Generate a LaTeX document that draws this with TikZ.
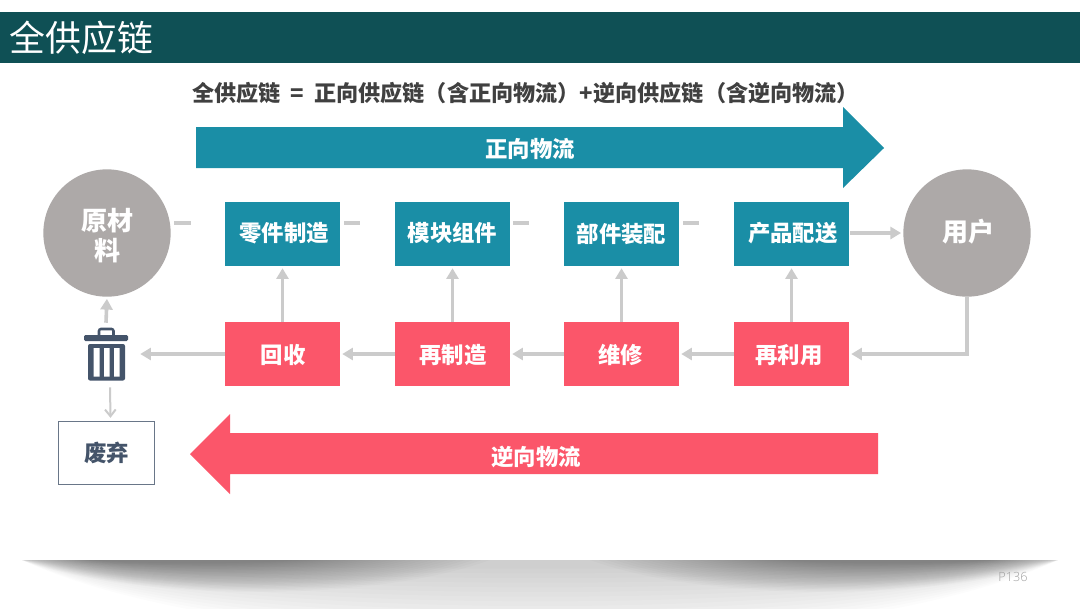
\documentclass[tikz,border=0pt]{standalone}
\usepackage{fontspec}
\setmainfont{Noto Sans CJK SC}
\newfontfamily\pagefont{Open Sans Light}[Scale=1]
\usetikzlibrary{arrows.meta,calc}
\definecolor{barteal}{HTML}{0F5055}
\definecolor{flowteal}{HTML}{1A8EA6}
\definecolor{flowred}{HTML}{FB566A}
\definecolor{circgray}{HTML}{ADA9A8}
\definecolor{linkgray}{HTML}{CBCBCB}
\definecolor{slate}{HTML}{44546A}
\definecolor{headtext}{HTML}{404040}
\newcommand\txtup[3]{\hspace*{#1}#3\hspace*{-#1}\rule[-#2]{0pt}{0pt}}
\newcommand\txtdown[3]{\hspace*{#1}#3\hspace*{-#1}\rule{0pt}{#2}}
\tikzset{
  x=0.75pt,y=-0.75pt,
  flowbox/.style={rectangle,minimum width=86.25pt,minimum height=48pt,inner sep=0pt,text=white,font=\fontsize{16.8pt}{20pt}\selectfont\bfseries},
  forwardbox/.style={flowbox,fill=flowteal},
  backbox/.style={flowbox,fill=flowred},
  endcircle/.style={circle,fill=circgray,minimum size=95.5pt,inner sep=0pt,text=white,align=center,font=\fontsize{19.5pt}{22.5pt}\selectfont\bfseries},
  link/.style={draw=linkgray,line width=2.7pt,-{Triangle[width=9pt,length=8pt]},shorten >=1.5pt},
  thinlink/.style={draw=linkgray,line width=1.5pt,-{Straight Barb[length=5pt,width=8pt,line width=1.5pt]}},
  stub/.style={draw=linkgray,line width=3.6pt},
  biglabel/.style={text=white,font=\fontsize{16.8pt}{20pt}\selectfont\bfseries,inner sep=0pt},
}
\begin{document}
\begin{tikzpicture}
\useasboundingbox (0,0) rectangle (1080,608);
\fill[white] (0,0) rectangle (1080,608);
% title bar
\fill[barteal] (0,12) rectangle (1080,63);
\node[anchor=west,text=white,inner sep=0pt,font=\fontsize{26.9pt}{30pt}\selectfont] (title) at (9.5,38) {全供应链};
\node[text=headtext,inner sep=0pt,font=\fontsize{16.6pt}{20pt}\selectfont\bfseries] (formula) at (525.5,93) {全供应链 ~=~ 正向供应链（含正向物流）+逆向供应链（含逆向物流）};
% big arrows
\fill[flowteal] (196,127) -- (843,127) -- (843,107) -- (884,148) -- (843,188) -- (843,168) -- (196,168) -- cycle;
\node[biglabel] (fwd) at (530,149) {正向物流};
\fill[flowred] (878,433) -- (230,433) -- (230,414) -- (190,454) -- (230,494) -- (230,474) -- (878,474) -- cycle;
\node[biglabel] (rev) at (536,457) {逆向物流};
% nodes
\node[endcircle] (raw) at (107,233) {\rule{0pt}{20.5pt}原材\\料};
\node[endcircle] (user) at (967,233) {\txtup{1pt}{4.6pt}{用户}};
\node[forwardbox] (f1) at (282.5,234) {\txtup{1.2pt}{3.2pt}{零件制造}};
\node[forwardbox] (f2) at (452.5,234) {\txtup{0pt}{3.2pt}{模块组件}};
\node[forwardbox] (f3) at (621.5,234) {\txtdown{0pt}{15.2pt}{部件装配}};
\node[forwardbox] (f4) at (791.5,234) {\txtup{1pt}{3.2pt}{产品配送}};
\node[backbox] (b1) at (282.5,354) {\txtdown{0.5pt}{16pt}{回收}};
\node[backbox] (b2) at (452.5,354) {\txtdown{0.5pt}{16pt}{再制造}};
\node[backbox] (b3) at (621.5,354) {\txtdown{-0.8pt}{16pt}{维修}};
\node[backbox] (b4) at (791.5,354) {\txtdown{-2pt}{16pt}{再利用}};
\node[rectangle,draw=slate!80!white,line width=.8pt,fill=white,minimum width=72.5pt,minimum height=47.5pt,inner sep=0pt,text=slate,font=\fontsize{16.8pt}{20pt}\selectfont\bfseries] (waste) at (106.5,453) {废弃};
% trash can
\node[rectangle,minimum width=33pt,minimum height=40.5pt,inner sep=0pt] (trash) at (106,354) {};
\draw[slate,line width=1.9pt,rounded corners=1.5pt] (99,335) -- (99,329) -- (113.5,329) -- (113.5,335);
\fill[slate,rounded corners=1pt] (84,335) rectangle (128,341);
\fill[slate,rounded corners=1.5pt] (88,344) rectangle (125,380.5);
\fill[white] (93.5,348) rectangle (99.5,376.5) (104,348) rectangle (109.5,376.5) (114,348) rectangle (119.5,376.5);
% connectors
\coordinate (d0a) at (174,223); \coordinate (d0b) at (191,223);
\coordinate (d1a) at (344,223); \coordinate (d1b) at (360,223);
\coordinate (d2a) at (513,223); \coordinate (d2b) at (529,223);
\coordinate (d3a) at (683,223); \coordinate (d3b) at (699,223);
\draw[stub] (d0a) -- (d0b);
\draw[stub] (d1a) -- (d1b);
\draw[stub] (d2a) -- (d2b);
\draw[stub] (d3a) -- (d3b);
\draw[link] (f4.east) ++(1,-1) coordinate (f4out) -- (f4out -| user.west);
\draw[link] (b1.north) -- (f1.south);
\draw[link] (b2.north) -- (f2.south);
\draw[link] (b3.north) -- (f3.south);
\draw[link] (b4.north) -- (f4.south);
\draw[link] (b4.west) -- (b3.east);
\draw[link] (b3.west) -- (b2.east);
\draw[link] (b2.west) -- (b1.east);
\draw[link] (b1.west) -- ($(trash.east)+(10,0)$);
\draw[link] (user.south) |- (b4.east);
\draw[link] ($(trash.north)+(0,-4)$) -- (raw.south);
\draw[thinlink] ($(trash.south)+(4,6)$) -- ($(waste.north)+(4,-3)$);
% bottom shadow
\begin{scope}
\clip (0,560) rectangle (1080,608);
\foreach \k in {0,...,15}{
  \pgfmathsetmacro{\dd}{75*(1-\k/16)+4}
  \fill[black,opacity=.011] (22,560) .. controls (250,{560+\dd*1.33}) and (830,{560+\dd*1.33}) .. (1058,560) -- cycle;
}
\foreach \k in {0,...,23}{
  \pgfmathsetmacro{\xl}{22+70*\k/24}
  \pgfmathsetmacro{\xr}{490-200*\k/24}
  \pgfmathsetmacro{\dd}{30*(1-\k/24)+2}
  \fill[black,opacity=.017] (\xl,560) .. controls ({\xl+.25*(\xr-\xl)},{560+\dd*1.33}) and ({\xr-.25*(\xr-\xl)},{560+\dd*1.33}) .. (\xr,560) -- cycle;
  \fill[black,opacity=.017] ({1080-\xl},560) .. controls ({1080-\xl-.25*(\xr-\xl)},{560+\dd*1.33}) and ({1080-\xr+.25*(\xr-\xl)},{560+\dd*1.33}) .. ({1080-\xr},560) -- cycle;
}
\end{scope}
\node[text=black!38,inner sep=0pt,font=\pagefont\fontsize{9.5pt}{11pt}\selectfont] (pg) at (1013,577) {P136};
\end{tikzpicture}
\end{document}
